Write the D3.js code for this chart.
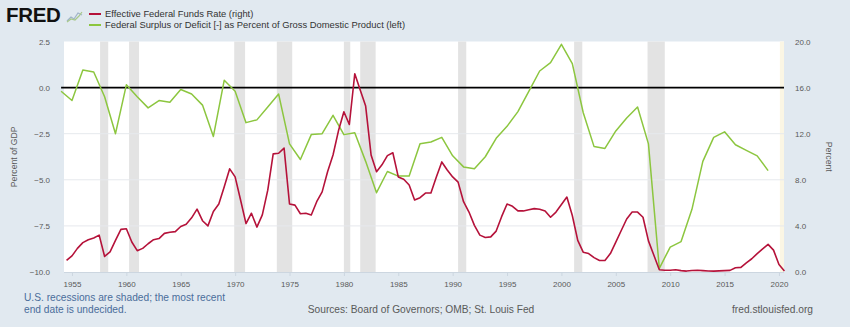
<!DOCTYPE html>
<meta charset="utf-8">
<script src="https://d3js.org/d3.v7.min.js"></script>
<style>
  body { margin: 0; background: #e1e9f0; }
  svg { display: block; font-family: "Liberation Sans", Arial, sans-serif; }
</style>
<body>
<script>

// DATA

// federal surplus / deficit, % of GDP, fiscal years 1954..2019
var deficitStart = 1954;
var deficit = [
  -0.2, -0.7, 0.95, 0.85, -0.5, -2.5, 0.15, -0.5, -1.1, -0.7,
  -0.8, -0.1, -0.35, -0.95, -2.65, 0.4, -0.2, -1.9, -1.75, -1.05,
  -0.35, -3.05, -3.9, -2.55, -2.5, -1.5, -2.55, -2.45, -4.0, -5.7,
  -4.55, -4.8, -4.8, -3.05, -2.95, -2.7, -3.7, -4.3, -4.4, -3.75,
  -2.75, -2.1, -1.3, -0.2, 0.9, 1.35, 2.35, 1.3, -1.35, -3.2,
  -3.3, -2.35, -1.65, -1.05, -3.05, -9.8, -8.65, -8.35, -6.6, -4.0,
  -2.7, -2.4, -3.1, -3.4, -3.7, -4.5
];

// effective federal funds rate, semiannual averages from 1954 H2 to 2020 H2
var ratesStart = 1954.5;
var ratesStep = 0.5;
var rates = [
  1.0, 1.4, 2.05, 2.55, 2.8, 2.95, 3.2, 1.35, 1.75, 2.75,
  3.7, 3.75, 2.6, 1.85, 2.05, 2.45, 2.8, 2.9, 3.35, 3.45,
  3.5, 3.95, 4.15, 4.7, 5.45, 4.45, 4.0, 5.25, 5.9, 7.4,
  8.95, 8.25, 6.25, 4.2, 5.1, 3.9, 4.95, 7.1, 10.25, 10.3,
  10.75, 5.9, 5.8, 5.05, 5.1, 4.95, 6.1, 6.95, 8.7, 10.15,
  12.25, 13.9, 12.8, 17.2, 15.8, 14.4, 10.15, 8.7, 9.3, 10.1,
  10.35, 8.25, 8.05, 7.55, 6.25, 6.45, 6.85, 6.85, 8.25, 9.55,
  8.85, 8.25, 7.8, 6.1, 5.2, 4.05, 3.2, 3.0, 3.05, 3.55,
  4.8, 5.9, 5.7, 5.3, 5.3, 5.4, 5.5, 5.45, 5.3, 4.75,
  5.2, 5.85, 6.5, 4.9, 2.75, 1.72, 1.6, 1.25, 1.0, 1.0,
  1.6, 2.6, 3.6, 4.6, 5.2, 5.2, 4.75, 2.7, 1.45, 0.2,
  0.15, 0.15, 0.19, 0.12, 0.08, 0.13, 0.15, 0.12, 0.09, 0.08,
  0.1, 0.12, 0.14, 0.37, 0.4, 0.8, 1.15, 1.6, 2.0, 2.4,
  1.9, 0.65, 0.09
];

// recessions: [start year, start month, end year, end month]
var recessions = [
  [1957, 8, 1958, 4], [1960, 4, 1961, 2], [1969, 12, 1970, 11],
  [1973, 11, 1975, 3], [1980, 1, 1980, 7], [1981, 7, 1982, 11],
  [1990, 7, 1991, 3], [2001, 3, 2001, 11], [2007, 12, 2009, 6]
];
var openRecession = [2020, 2];

var yearTicks = d3.range(1955, 2021, 5);
var leftTicks = [2.5, 0, -2.5, -5, -7.5, -10];
var rightTicks = [20, 16, 12, 8, 4, 0];

var seriesNames = [
  "Effective Federal Funds Rate (right)",
  "Federal Surplus or Deficit [-] as Percent of Gross Domestic Product (left)"
];


// SETUP

var width = 850;
var height = 327;

var plot = { left: 64, right: 784, top: 41.5, bottom: 272 };

var red = "#b5123a";
var green = "#8cc63f";
var textGray = "#595959";

var svg = d3.select("body")
  .append("svg")
  .attr("width", width)
  .attr("height", height);

svg.append("rect")
  .attr("width", width)
  .attr("height", height)
  .attr("fill", "#e1e9f0");

var x = d3.scaleLinear()
  .domain([1954, 2020.5])
  .range([61.1, 784.4]);

var yLeft = d3.scaleLinear()
  .domain([-10, 2.5])
  .range([plot.bottom, plot.top]);

var yRight = d3.scaleLinear()
  .domain([0, 20])
  .range([plot.bottom, plot.top]);

function ym(y, m) { return y + (m - 1) / 12; }


// PLOT BACKGROUND, RECESSIONS, GRID

svg.append("rect")
  .attr("x", plot.left)
  .attr("y", plot.top)
  .attr("width", plot.right - plot.left)
  .attr("height", plot.bottom - plot.top)
  .attr("fill", "#ffffff");

svg.append("g")
  .selectAll("rect")
  .data(recessions)
  .enter()
  .append("rect")
    .attr("x", function (d) { return x(ym(d[0], d[1])); })
    .attr("width", function (d) { return x(ym(d[2], d[3] + 1)) - x(ym(d[0], d[1])); })
    .attr("y", plot.top)
    .attr("height", plot.bottom - plot.top)
    .attr("fill", "#e3e3e3");

svg.append("rect")
  .attr("x", x(ym(openRecession[0], openRecession[1])))
  .attr("width", plot.right - x(ym(openRecession[0], openRecession[1])))
  .attr("y", plot.top)
  .attr("height", plot.bottom - plot.top)
  .attr("fill", "#fbf6e4");

svg.append("g")
  .selectAll("line")
  .data(leftTicks.slice(1, -1))
  .enter()
  .append("line")
    .attr("x1", plot.left)
    .attr("x2", plot.right)
    .attr("y1", function (d) { return yLeft(d); })
    .attr("y2", function (d) { return yLeft(d); })
    .attr("stroke", "#e6e9ed")
    .attr("stroke-width", 1);


// AXES

var xAxis = svg.append("g")
  .attr("transform", "translate(0," + plot.bottom + ")")
  .call(d3.axisBottom(x)
    .tickValues(yearTicks)
    .tickFormat(d3.format("d"))
    .tickSize(4)
    .tickSizeOuter(0)
    .tickPadding(5));

xAxis.select(".domain")
  .attr("d", "M" + plot.left + ",0.5H" + plot.right)
  .attr("stroke", "#ccd6e0");
xAxis.selectAll(".tick line").attr("stroke", "#ccd6e0");
xAxis.selectAll("text")
  .attr("fill", textGray)
  .style("font-size", "8px");

var leftAxis = svg.append("g")
  .attr("transform", "translate(50,0)")
  .call(d3.axisLeft(yLeft)
    .tickValues(leftTicks)
    .tickFormat(d3.format(".1f"))
    .tickSize(0)
    .tickPadding(0));
leftAxis.select(".domain").remove();
leftAxis.selectAll("text")
  .attr("fill", textGray)
  .style("font-size", "8px");

var rightAxis = svg.append("g")
  .attr("transform", "translate(795,0)")
  .call(d3.axisRight(yRight)
    .tickValues(rightTicks)
    .tickFormat(d3.format(".1f"))
    .tickSize(0)
    .tickPadding(0));
rightAxis.select(".domain").remove();
rightAxis.selectAll("text")
  .attr("fill", textGray)
  .style("font-size", "8px");

svg.append("text")
  .attr("transform", "translate(17," + ((plot.top + plot.bottom) / 2) + ")rotate(-90)")
  .attr("text-anchor", "middle")
  .attr("fill", textGray)
  .style("font-size", "8.7px")
  .text("Percent of GDP");

svg.append("text")
  .attr("transform", "translate(826," + ((plot.top + plot.bottom) / 2) + ")rotate(90)")
  .attr("text-anchor", "middle")
  .attr("fill", textGray)
  .style("font-size", "8.7px")
  .text("Percent");


// ZERO LINE AND SERIES

svg.append("line")
  .attr("x1", x(1954))
  .attr("x2", plot.right)
  .attr("y1", yLeft(0))
  .attr("y2", yLeft(0))
  .attr("stroke", "#000")
  .attr("stroke-width", 1.6);

var greenLine = d3.line()
  .x(function (d, i) { return x(deficitStart + i); })
  .y(function (d) { return yLeft(d); });

svg.append("path")
  .datum(deficit)
  .attr("d", greenLine)
  .attr("fill", "none")
  .attr("stroke", green)
  .attr("stroke-width", 1.5)
  .attr("stroke-linejoin", "round");

var redLine = d3.line()
  .x(function (d, i) { return x(ratesStart + i * ratesStep); })
  .y(function (d) { return yRight(d); });

svg.append("path")
  .datum(rates)
  .attr("d", redLine)
  .attr("fill", "none")
  .attr("stroke", red)
  .attr("stroke-width", 1.6)
  .attr("stroke-linejoin", "round");


// HEADER: LOGO AND LEGEND

svg.append("text")
  .attr("x", 6)
  .attr("y", 22)
  .attr("fill", "#111")
  .style("font-size", "20.5px")
  .style("font-weight", "900")
  .style("letter-spacing", "-0.3px")
  .text("FRED");

var icon = svg.append("g").attr("transform", "translate(67,9)");
icon.append("path")
  .attr("d", "M0,12 L4,8 L7,10 L11,4 L15,6")
  .attr("fill", "none")
  .attr("stroke", "#9fb3c8")
  .attr("stroke-width", 1.2);
icon.append("path")
  .attr("d", "M0,13 L4,10 L8,11 L12,7 L15,3")
  .attr("fill", "none")
  .attr("stroke", "#a8c88a")
  .attr("stroke-width", 1.2);

var legend = svg.append("g").attr("transform", "translate(89,0)");
var legendColors = [red, green];

legend.selectAll("line")
  .data(seriesNames)
  .enter()
  .append("line")
    .attr("x1", 0)
    .attr("x2", 12)
    .attr("y1", function (d, i) { return 14 + i * 11; })
    .attr("y2", function (d, i) { return 14 + i * 11; })
    .attr("stroke", function (d, i) { return legendColors[i]; })
    .attr("stroke-width", 2);

legend.selectAll("text")
  .data(seriesNames)
  .enter()
  .append("text")
    .attr("x", 16)
    .attr("y", function (d, i) { return 17.3 + i * 11; })
    .attr("fill", "#333")
    .style("font-size", "9.4px")
    .text(function (d) { return d; });


// FOOTER

svg.append("text")
  .attr("x", 24)
  .attr("y", 301)
  .attr("fill", "#4a6d9b")
  .style("font-size", "10.2px")
  .text("U.S. recessions are shaded; the most recent");

svg.append("text")
  .attr("x", 24)
  .attr("y", 313)
  .attr("fill", "#4a6d9b")
  .style("font-size", "10.2px")
  .text("end date is undecided.");

svg.append("text")
  .attr("x", 421)
  .attr("y", 313)
  .attr("text-anchor", "middle")
  .attr("fill", textGray)
  .style("font-size", "10.2px")
  .text("Sources: Board of Governors; OMB; St. Louis Fed");

svg.append("text")
  .attr("x", 813)
  .attr("y", 313)
  .attr("text-anchor", "end")
  .attr("fill", textGray)
  .style("font-size", "10.2px")
  .text("fred.stlouisfed.org");

</script>
</body>
